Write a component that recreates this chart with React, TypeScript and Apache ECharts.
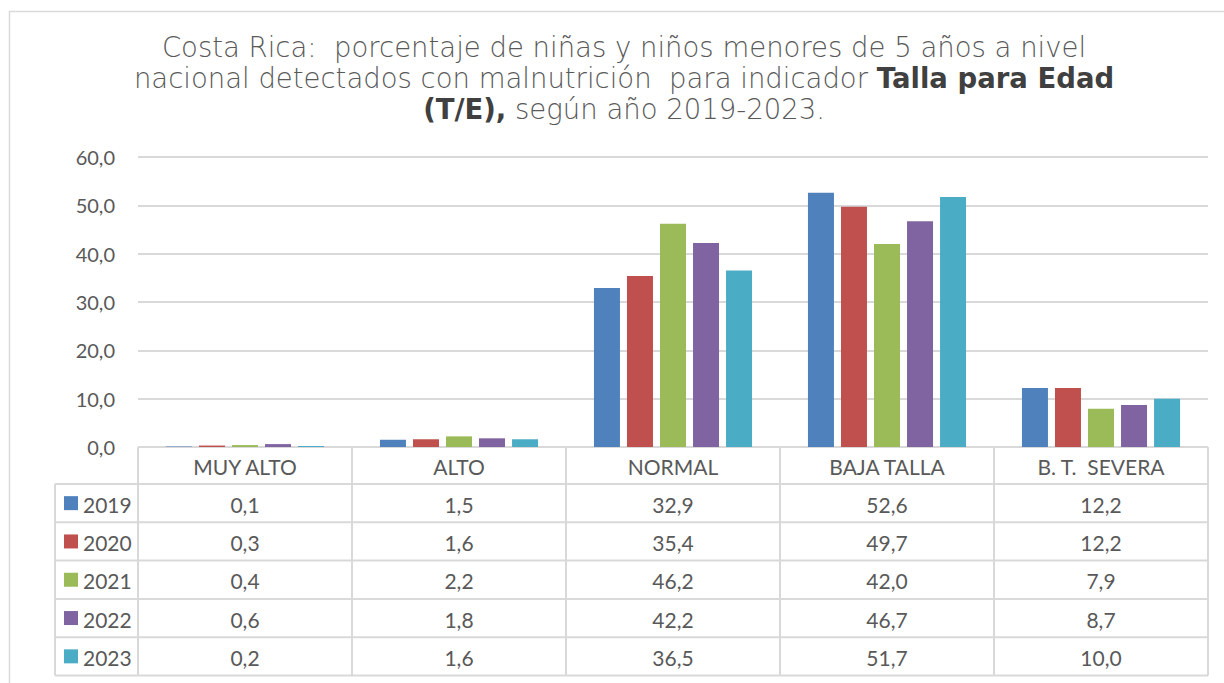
import React, { useEffect, useRef } from "react";
import * as echarts from "echarts";

const categories = ["MUY ALTO", "ALTO", "NORMAL", "BAJA TALLA", "B. T.  SEVERA"];
const years = ["2019", "2020", "2021", "2022", "2023"];
const values2019 = [0.1, 1.5, 32.9, 52.6, 12.2];
const values2020 = [0.3, 1.6, 35.4, 49.7, 12.2];
const values2021 = [0.4, 2.2, 46.2, 42.0, 7.9];
const values2022 = [0.6, 1.8, 42.2, 46.7, 8.7];
const values2023 = [0.2, 1.6, 36.5, 51.7, 10.0];
const seriesValues = [values2019, values2020, values2021, values2022, values2023];
const colors = ["#4F81BD", "#C0504D", "#9BBB59", "#8064A2", "#4BACC6"];
const yTicks = [0, 10, 20, 30, 40, 50, 60];

const W = 1224;
const H = 683;
const GRID_LEFT = 138;
const GRID_RIGHT_X = 1208;
const GRID_TOP = 157;
const AXIS_Y = 447;
const HEADER_BOTTOM = 484;
const ROW_H = 38.3;
const LEGEND_LEFT = 55;
const LINE_COLOR = "#D9D9D9";
const TEXT_COLOR = "#595959";
const FONT = "Lato";
const TABLE_FONT_SIZE = 21;
const TITLE_FONT_SIZE = 27.5;

const fmt = (v: number) => v.toFixed(1).replace(".", ",");

function buildTable() {
  const els: any[] = [];
  const colW = (GRID_RIGHT_X - GRID_LEFT) / categories.length;
  const tableBottom = HEADER_BOTTOM + ROW_H * years.length;
  const ls = { stroke: LINE_COLOR, lineWidth: 2 };
  els.push({ type: "line", shape: { x1: GRID_LEFT, y1: AXIS_Y, x2: GRID_RIGHT_X, y2: AXIS_Y }, style: ls });
  for (let r = 0; r <= years.length; r++) {
    const y = HEADER_BOTTOM + ROW_H * r;
    els.push({ type: "line", shape: { x1: LEGEND_LEFT, y1: y, x2: GRID_RIGHT_X, y2: y }, style: ls });
  }
  els.push({ type: "line", shape: { x1: LEGEND_LEFT, y1: HEADER_BOTTOM, x2: LEGEND_LEFT, y2: tableBottom }, style: ls });
  for (let c = 0; c <= categories.length; c++) {
    const x = GRID_LEFT + colW * c;
    els.push({ type: "line", shape: { x1: x, y1: AXIS_Y, x2: x, y2: tableBottom }, style: ls });
  }
  categories.forEach((cat, c) => {
    els.push({
      type: "text",
      x: GRID_LEFT + colW * (c + 0.5),
      y: (AXIS_Y + HEADER_BOTTOM) / 2 + 1,
      style: { text: cat, font: `${TABLE_FONT_SIZE}px ${FONT}`, fill: TEXT_COLOR, align: "center", verticalAlign: "middle" },
    });
  });
  years.forEach((yr, r) => {
    const cy = HEADER_BOTTOM + ROW_H * (r + 0.5) + 1;
    els.push({ type: "rect", shape: { x: 64, y: cy - 8, width: 14, height: 14 }, style: { fill: colors[r] } });
    els.push({
      type: "text",
      x: 83,
      y: cy,
      style: { text: yr, font: `${TABLE_FONT_SIZE}px ${FONT}`, fill: TEXT_COLOR, align: "left", verticalAlign: "middle" },
    });
    seriesValues[r].forEach((v, c) => {
      els.push({
        type: "text",
        x: GRID_LEFT + colW * (c + 0.5),
        y: cy,
        style: { text: fmt(v), font: `${TABLE_FONT_SIZE}px ${FONT}`, fill: TEXT_COLOR, align: "center", verticalAlign: "middle" },
      });
    });
  });
  els.push({ type: "rect", shape: { x: 9.5, y: 11.5, width: 1400, height: 1000 }, style: { fill: "none", stroke: LINE_COLOR, lineWidth: 1.5 } });
  return els;
}

export default function App() {
  const ref = useRef<HTMLDivElement>(null);
  useEffect(() => {
    if (!ref.current) return;
    const chart = echarts.init(ref.current, undefined, { renderer: "svg" });
    chart.setOption({
      animation: false,
      backgroundColor: "#ffffff",
      title: {
        left: 624,
        top: 31,
        textAlign: "center",
        padding: 0,
        text:
          "Costa Rica:  porcentaje de niñas y niños menores de 5 años a nivel\nnacional detectados con malnutrición  para indicador {b|Talla para Edad}\n{b|(T/E),} según año 2019-2023.",
        textStyle: {
          fontFamily: "DejaVu Sans",
          fontSize: TITLE_FONT_SIZE,
          fontWeight: 300,
          color: TEXT_COLOR,
          lineHeight: 31,
          align: "center",
          rich: {
            b: { fontFamily: "DejaVu Sans", fontSize: TITLE_FONT_SIZE, fontWeight: "bold", color: "#404040", lineHeight: 31 },
          },
        },
      },
      grid: { left: GRID_LEFT, right: W - GRID_RIGHT_X, top: GRID_TOP, bottom: H - AXIS_Y, containLabel: false },
      xAxis: {
        type: "category",
        data: categories,
        axisLine: { show: false },
        axisTick: { show: false },
        axisLabel: { show: false },
      },
      yAxis: {
        type: "value",
        min: 0,
        max: 60,
        interval: 10,
        axisLine: { show: false },
        axisTick: { show: false },
        axisLabel: {
          margin: 23,
          color: TEXT_COLOR,
          fontFamily: FONT,
          fontSize: 20,
          formatter: (v: number) => (yTicks.includes(v) ? fmt(v) : ""),
        },
        splitLine: { lineStyle: { color: LINE_COLOR, width: 2 } },
      },
      series: years.map((yr, i) => ({
        name: yr,
        type: "bar",
        data: seriesValues[i],
        barWidth: 26,
        barGap: "27%",
        itemStyle: { color: colors[i] },
      })),
      graphic: buildTable(),
    });
    return () => chart.dispose();
  }, []);
  return (
    <div
      ref={ref}
      style={{ position: "absolute", left: 0, top: 0, width: W, height: H }}
    />
  );
}
